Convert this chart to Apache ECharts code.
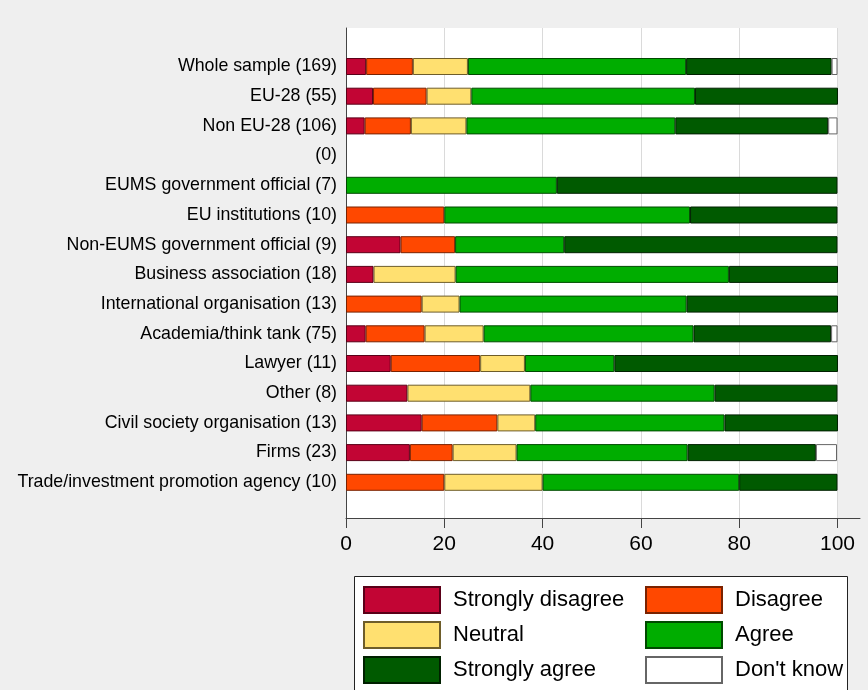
<!DOCTYPE html>
<html>
<head>
<meta charset="utf-8">
<script src="https://cdn.jsdelivr.net/npm/echarts@6/dist/echarts.min.js"></script>
<style>
html,body{margin:0;padding:0;background:#efefef;}
#chart{width:868px;height:690px;}
</style>
</head>
<body>
<div id="chart"></div>
<script>
const categories = ['Whole sample (169)','EU-28 (55)','Non EU-28 (106)','(0)','EUMS government official (7)','EU institutions (10)','Non-EUMS government official (9)','Business association (18)','International organisation (13)','Academia/think tank (75)','Lawyer (11)','Other (8)','Civil society organisation (13)','Firms (23)','Trade/investment promotion agency (10)'];
const stronglyDisagree = [4.1, 5.5, 3.8, null, null, null, 11.1, 5.6, null, 4.0, 9.1, 12.5, 15.4, 13.0, null];
const disagree         = [9.5, 10.9, 9.4, null, null, 20.0, 11.1, null, 15.4, 12.0, 18.2, null, 15.4, 8.7, 20.0];
const neutral          = [11.2, 9.1, 11.3, null, null, null, null, 16.7, 7.7, 12.0, 9.1, 25.0, 7.7, 13.0, 20.0];
const agree            = [44.4, 45.5, 42.5, null, 42.9, 50.0, 22.2, 55.6, 46.2, 42.7, 18.2, 37.5, 38.5, 34.8, 40.0];
const stronglyAgree    = [29.6, 29.1, 31.1, null, 57.1, 30.0, 55.6, 22.2, 30.8, 28.0, 45.5, 25.0, 23.1, 26.1, 20.0];
const dontKnow         = [1.2, null, 1.9, null, null, null, null, null, null, 1.3, null, null, null, 4.3, null];
const xTicks = [0, 20, 40, 60, 80, 100];

const seriesDefs = [
  {name:'Strongly disagree', data:stronglyDisagree, color:'#c20534', border:'#5a0018'},
  {name:'Disagree', data:disagree, color:'#ff4800', border:'#7a2200'},
  {name:'Neutral', data:neutral, color:'#ffe070', border:'#6e5d2a'},
  {name:'Agree', data:agree, color:'#00ad00', border:'#004a00'},
  {name:'Strongly agree', data:stronglyAgree, color:'#005a00', border:'#002000'},
  {name:"Don't know", data:dontKnow, color:'#ffffff', border:'#666666'}
];

const chart = echarts.init(document.getElementById('chart'), null, {renderer:'canvas'});
const font = "'Liberation Sans', Arial, sans-serif";
const legendCommon = {
  orient: 'vertical', top: 586, padding: 0, itemGap: 7, itemWidth: 76, itemHeight: 26,
  selectedMode: false, icon: 'rect',
  textStyle: {fontSize: 22, color: '#000', fontFamily: font, padding: [0, 0, 0, 8]}
};
const option = {
  animation: false,
  backgroundColor: '#efefef',
  textStyle: {fontFamily: font, color: '#000'},
  graphic: [{
    type: 'rect', z: 0,
    shape: {x: 354.5, y: 576.5, width: 493, height: 130},
    style: {fill: '#ffffff', stroke: '#222', lineWidth: 1}
  }],
  grid: [
    {left: 346, top: 51.65, width: 491.5, height: 445.5, show: false},
    {left: 346, top: 28, width: 491.5, height: 490, show: true, backgroundColor: '#ffffff', borderWidth: 0},
    {left: 346, top: 28, width: 514, height: 490, show: false}
  ],
  xAxis: [
    {gridIndex: 0, type: 'value', min: 0, max: 100, show: false},
    {gridIndex: 1, type: 'value', min: xTicks[0], max: xTicks[xTicks.length-1], interval: 20,
      axisLine: {show: false},
      axisTick: {show: true, length: 10, inside: false, lineStyle: {color: '#444', width: 1}},
      axisLabel: {fontSize: 21, color: '#000', margin: 16, fontFamily: font},
      splitLine: {show: true, lineStyle: {color: '#dadada', width: 1}}
    },
    {gridIndex: 2, type: 'value', min: 0, max: 100,
      axisLine: {show: true, lineStyle: {color: '#444', width: 1}},
      axisTick: {show: false}, axisLabel: {show: false}, splitLine: {show: false}
    }
  ],
  yAxis: [
    {gridIndex: 0, type: 'category', data: categories, inverse: true,
      axisLine: {show: false}, axisTick: {show: false},
      axisLabel: {fontSize: 17.8, color: '#000', margin: 9, fontFamily: font}
    },
    {gridIndex: 1, type: 'value', min: 0, max: 1,
      axisLine: {show: true, lineStyle: {color: '#444', width: 1}},
      axisTick: {show: false}, axisLabel: {show: false}, splitLine: {show: false}
    },
    {gridIndex: 2, type: 'value', show: false}
  ],
  legend: [
    Object.assign({}, legendCommon, {data: ['Strongly disagree', 'Neutral', 'Strongly agree'], left: 363}),
    Object.assign({}, legendCommon, {data: ['Disagree', 'Agree', "Don't know"], left: 645})
  ],
  series: seriesDefs.map(s => ({
    name: s.name, type: 'bar', stack: 'total', xAxisIndex: 0, yAxisIndex: 0,
    barWidth: 17, data: s.data,
    itemStyle: {color: s.color, borderColor: s.border, borderWidth: 1},
    emphasis: {disabled: true}
  }))
};
chart.setOption(option);
</script>
</body>
</html>
